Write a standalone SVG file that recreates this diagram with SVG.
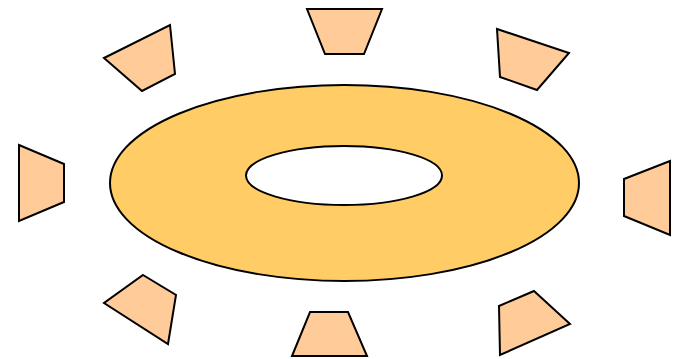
<svg xmlns="http://www.w3.org/2000/svg" width="674" height="359" viewBox="0 0 674 359">
<style>
.t{fill:#FFCC99;stroke:#000;stroke-width:2;stroke-linejoin:miter}
.d{fill:#FFCC66;stroke:#000;stroke-width:2;fill-rule:evenodd}
</style>
<rect width="674" height="359" fill="#fff"/>
<g id="donut"><path class="d" d="M110,183 A234.5,98 0 1 0 579,183 A234.5,98 0 1 0 110,183 Z M246,175.5 A98,29.5 0 1 0 442,175.5 A98,29.5 0 1 0 246,175.5 Z"/></g>
<g id="n1"><polygon class="t" points="104,58 170,25 175,74 142,91"/></g>
<g id="n2"><polygon class="t" points="307,9 382,9 364,54 325,54"/></g>
<g id="n3"><polygon class="t" points="497,29 569,53 537,90 500,77"/></g>
<g id="n4"><polygon class="t" points="19,145 64,164 64,202 19,221"/></g>
<g id="n5"><polygon class="t" points="670,161 624,179 624,216 670,235"/></g>
<g id="n6"><polygon class="t" points="143,275 176,295 168,344 104,303"/></g>
<g id="n7"><polygon class="t" points="310,312 348,312 367,356 292,356"/></g>
<g id="n8"><polygon class="t" points="534,291 570,324 500,355 499,306"/></g>
</svg>
